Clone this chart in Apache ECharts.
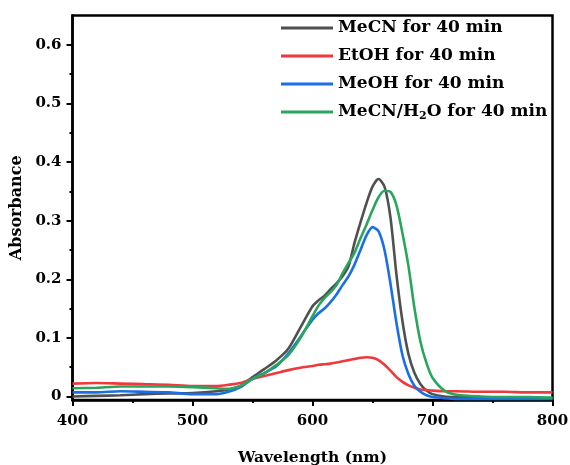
<!DOCTYPE html>
<html>
<head>
<meta charset="utf-8">
<script src="https://cdn.jsdelivr.net/npm/echarts@6/dist/echarts.min.js"></script>
<style>
  html, body { margin: 0; padding: 0; background: #fff; }
  #chart { width: 570px; height: 465px; }
</style>
</head>
<body>
<div id="chart"></div>
<script>
// Wavelength grid (nm) shared by all spectra
const wavelength = [400, 420, 440, 460, 480, 500, 520, 530, 540, 550, 560, 570, 580, 590, 600, 605, 610, 615, 620, 625, 630, 635, 640, 645, 650, 655, 660, 665, 670, 675, 680, 685, 690, 695, 700, 710, 720, 740, 760, 780, 800];

// Absorbance after 40 min in each solvent
const absMeCN = [0.000, 0.001, 0.002, 0.004, 0.005, 0.006, 0.009, 0.012, 0.018, 0.033, 0.047, 0.062, 0.082, 0.118, 0.154, 0.164, 0.172, 0.183, 0.193, 0.205, 0.222, 0.262, 0.297, 0.330, 0.358, 0.371, 0.358, 0.305, 0.207, 0.128, 0.072, 0.040, 0.021, 0.010, 0.004, 0.000, -0.001, -0.002, -0.003, -0.003, -0.003];
const absEtOH = [0.022, 0.023, 0.022, 0.021, 0.020, 0.018, 0.018, 0.020, 0.023, 0.030, 0.035, 0.040, 0.045, 0.049, 0.052, 0.054, 0.055, 0.056, 0.058, 0.060, 0.062, 0.064, 0.066, 0.067, 0.066, 0.062, 0.054, 0.044, 0.033, 0.025, 0.019, 0.015, 0.012, 0.011, 0.010, 0.009, 0.009, 0.008, 0.008, 0.007, 0.007];
const absMeOH = [0.007, 0.007, 0.009, 0.008, 0.007, 0.004, 0.004, 0.008, 0.016, 0.030, 0.040, 0.052, 0.074, 0.102, 0.131, 0.142, 0.150, 0.161, 0.174, 0.190, 0.205, 0.225, 0.250, 0.275, 0.289, 0.282, 0.250, 0.192, 0.125, 0.070, 0.038, 0.018, 0.008, 0.002, -0.001, -0.003, -0.004, -0.004, -0.004, -0.004, -0.004];
const absMeCNWater = [0.014, 0.015, 0.017, 0.017, 0.017, 0.016, 0.014, 0.013, 0.018, 0.030, 0.040, 0.054, 0.071, 0.100, 0.137, 0.155, 0.168, 0.178, 0.190, 0.210, 0.228, 0.245, 0.270, 0.293, 0.318, 0.340, 0.351, 0.349, 0.326, 0.278, 0.222, 0.150, 0.093, 0.057, 0.032, 0.010, 0.003, 0.000, -0.001, -0.001, -0.002];

const seriesNames = ['MeCN for 40 min', 'EtOH for 40 min', 'MeOH for 40 min', 'MeCN/H2O for 40 min'];
const seriesColors = ['#505050', '#f0393c', '#1a6fe6', '#2aa65c'];
const seriesValues = [absMeCN, absEtOH, absMeOH, absMeCNWater];

// Axis ticks
const yMajorTicks = [0, 0.1, 0.2, 0.3, 0.4, 0.5, 0.6];
const yMinorTicks = [0.05, 0.15, 0.25, 0.35, 0.45, 0.55];

const FONT = 'DejaVu Serif';
const chart = echarts.init(document.getElementById('chart'), null, { renderer: 'canvas' });

const yCommon = { type: 'value', min: -0.006, max: 0.65, splitLine: { show: false } };

chart.setOption({
  animation: false,
  backgroundColor: '#fff',
  grid: {
    left: 72.5, right: 17.5, top: 15.5, bottom: 65,
    show: true, borderColor: '#000', borderWidth: 2.5,
    outerBoundsMode: 'none'
  },
  legend: {
    orient: 'vertical',
    left: 276, top: 13,
    itemWidth: 52, itemHeight: 12, itemGap: 8,
    icon: 'path://M0,5 L52,5 L52,8 L0,8 Z',
    data: seriesNames,
    formatter: function (name) {
      if (name.indexOf('H2O') >= 0) {
        return '{t|MeCN/H}{s|2}{t|O for 40 min}';
      }
      return '{t|' + name + '}';
    },
    textStyle: {
      rich: {
        t: { fontFamily: FONT, fontWeight: 'bold', fontSize: 17, color: '#000', lineHeight: 20 },
        s: { fontFamily: FONT, fontWeight: 'bold', fontSize: 11, color: '#000', lineHeight: 20, verticalAlign: 'bottom', padding: [9, 0, 0, 0] }
      },
      padding: [0, 0, 0, 0],
      lineHeight: 20,
      height: 20
    }
  },
  xAxis: {
    type: 'value', min: 400, max: 800, interval: 100,
    name: 'Wavelength (nm)', nameLocation: 'middle', nameGap: 50,
    nameTextStyle: { fontFamily: FONT, fontWeight: 'bold', fontSize: 15.5, color: '#000' },
    axisLine: { onZero: false, lineStyle: { color: '#000', width: 2.5 } },
    axisTick: { show: true, inside: false, length: 6, lineStyle: { color: '#000', width: 2 } },
    minorTick: { show: true, splitNumber: 2, length: 3, lineStyle: { color: '#000', width: 2 } },
    axisLabel: { margin: 14, fontFamily: FONT, fontWeight: 'bold', fontSize: 15, color: '#000' },
    splitLine: { show: false }
  },
  yAxis: [
    Object.assign({}, yCommon, {
      name: 'Absorbance', nameLocation: 'middle', nameGap: 42, nameRotate: 90,
      nameTextStyle: { fontFamily: FONT, fontWeight: 'bold', fontSize: 16, color: '#000' },
      axisLine: { onZero: false, lineStyle: { color: '#000', width: 2.5 } },
      axisTick: { show: true, inside: false, length: 6, customValues: yMajorTicks, lineStyle: { color: '#000', width: 2 } },
      axisLabel: { margin: 11, customValues: yMajorTicks, fontFamily: FONT, fontWeight: 'bold', fontSize: 15, color: '#000',
        formatter: function (v) { return v === 0 ? '0' : v.toFixed(1); } }
    }),
    Object.assign({}, yCommon, {
      position: 'left',
      axisLine: { show: false },
      axisTick: { show: true, inside: false, length: 3, customValues: yMinorTicks, lineStyle: { color: '#000', width: 2 } },
      axisLabel: { show: false }
    })
  ],
  series: seriesNames.map(function (name, i) {
    return {
      name: name,
      type: 'line',
      yAxisIndex: 0,
      smooth: 0.25,
      showSymbol: false,
      color: seriesColors[i],
      lineStyle: { width: 2.6, color: seriesColors[i] },
      data: wavelength.map(function (w, k) { return [w, seriesValues[i][k]]; })
    };
  })
});
</script>
</body>
</html>
